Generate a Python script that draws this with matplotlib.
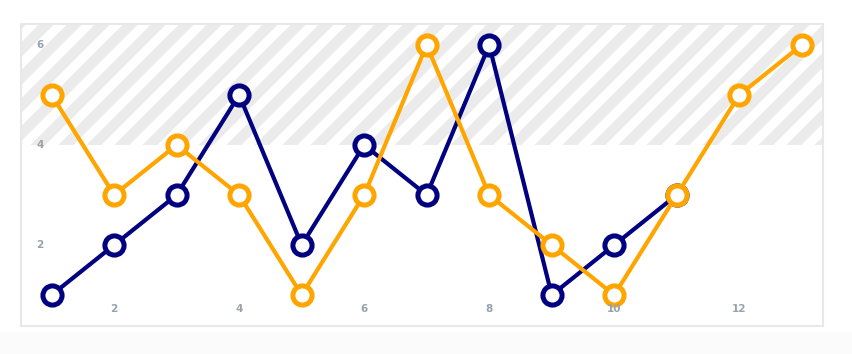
import matplotlib.pyplot as plt
from matplotlib.patches import Rectangle
import numpy as np

orange_x = [1, 2, 3, 4, 5, 6, 7, 8, 9, 10, 11, 12, 13]
orange_y = [5, 3, 4, 3, 1, 3, 6, 3, 2, 1, 3, 5, 6]
navy_x = [1, 2, 3, 4, 5, 6, 7, 8, 9, 10, 11]
navy_y = [1, 2, 3, 5, 2, 4, 3, 6, 1, 2, 3]
xticks = [2, 4, 6, 8, 10, 12]
yticks = [2, 4, 6]
band_from = 4

fig = plt.figure(figsize=(8.53, 3.54), dpi=100)
fig.patches.append(Rectangle((0, 0), 1, 22 / 354, transform=fig.transFigure,
                             color='#fbfbfb', zorder=0))
ax = fig.add_axes([21 / 853, 28 / 354, 802 / 853, 302 / 354])
x0, x1 = 0.51, 13.34
y0, y1 = 0.38, 6.42
ax.set_xlim(x0, x1)
ax.set_ylim(y0, y1)

# striped band
band = Rectangle((x0, band_from), x1 - x0, y1 - band_from, facecolor='white',
                 edgecolor='none', zorder=0)
ax.add_patch(band)
ppx = 802 / (x1 - x0)
ppy = 302 / (y1 - y0)
k = ppx / ppy  # data y per data x for a 45 deg line
step = 28 / ppx
for s in np.arange(x0 - 6, x1 + 2, step):
    ln, = ax.plot([s - 1, s + 6], [band_from - k, band_from + 6 * k],
                  color='#ebebeb', lw=7.6, solid_capstyle='butt', zorder=0.5)
    ln.set_clip_path(band)

ax.plot(navy_x, navy_y, color='#000080', lw=3, marker='o', ms=13.8,
        mfc='white', mec='#000080', mew=3.6, zorder=3)
ax.plot(orange_x, orange_y, color='#ffa500', lw=3, marker='o', ms=13.8,
        mfc='white', mec='#ffa500', mew=3.6, zorder=4)

for t in xticks:
    ax.text(t, 0.72, str(t), ha='center', va='center', fontsize=7.5,
            fontweight='bold', color='#98a2ab', zorder=5)
for t in yticks:
    ax.text(0.81, t, str(t), ha='center', va='center', fontsize=7.5,
            fontweight='bold', color='#98a2ab', zorder=5)

ax.set_xticks([])
ax.set_yticks([])
for sp in ax.spines.values():
    sp.set_color('#e8e8e8')
    sp.set_linewidth(1.5)

fig.savefig('out.png', dpi=100)
